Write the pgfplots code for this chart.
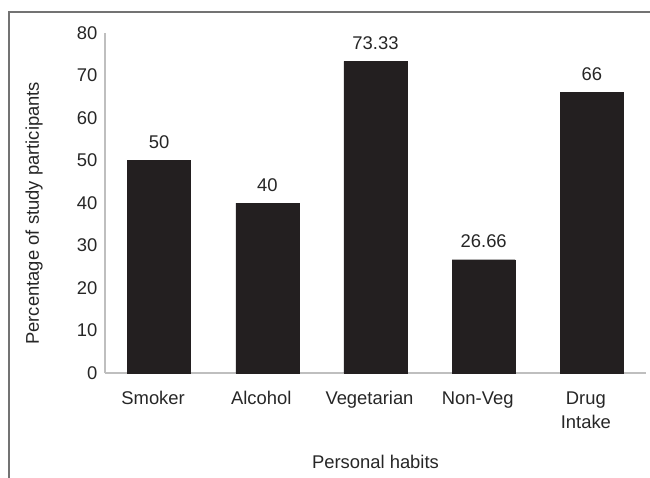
\documentclass[border=0pt]{standalone}
\usepackage{pgfplots}
\pgfplotsset{compat=1.18}
\usepackage{fontspec}
\setmainfont{Liberation Sans}
\definecolor{barc}{HTML}{231F20}
\definecolor{axc}{HTML}{BFBFBF}
\begin{document}
\begin{tikzpicture}
\useasboundingbox (-105pt,-104pt) rectangle (545pt,373pt);
\draw[color=gray!90!black, line width=1.2pt] (-96pt,-105pt) -- (-96pt,361pt) -- (546pt,361pt);
\begin{axis}[
  at={(0pt,0pt)}, anchor=south west,
  scale only axis, width=541pt, height=340pt,
  xmin=-0.5, xmax=4.5, ymin=0, ymax=80,
  axis lines*=left,
  axis line style={axc, line width=1.2pt},
  y axis line style={-}, x axis line style={-},
  ytick={0,10,...,80},
  xtick={0,1,2,3,4},
  xticklabels={Smoker,Alcohol,Vegetarian,Non-Veg,{Drug\\Intake}},
  xticklabel style={align=center, font=\fontsize{18.4}{24}\selectfont, text=black!85, yshift=-15pt, xshift=-6pt},
  yticklabel style={font=\fontsize{18.4}{22}\selectfont, text=black!85, xshift=-4pt},
  major tick length=0pt,
  /pgf/number format/assume math mode=true,
  xlabel={Personal habits},
  ylabel={Percentage of study participants},
  label style={font=\fontsize{18.4}{22}\selectfont, text=black!85},
  xlabel style={yshift=-20pt},
  ylabel style={at={(axis description cs:-0.131,0.47)}, anchor=center},
  ybar, bar width=63pt,
  nodes near coords,
  point meta=explicit symbolic,
  every node near coord/.append style={font=\fontsize{18.4}{22}\selectfont, text=black!85, yshift=8pt},
  clip=false,
]
\addplot[fill=barc, draw=barc] coordinates {
 (0,50) [50]
 (1,40) [40]
 (2,73.33) [73.33]
 (3,26.66) [26.66]
 (4,66) [66]
};
\end{axis}
\end{tikzpicture}
\end{document}
